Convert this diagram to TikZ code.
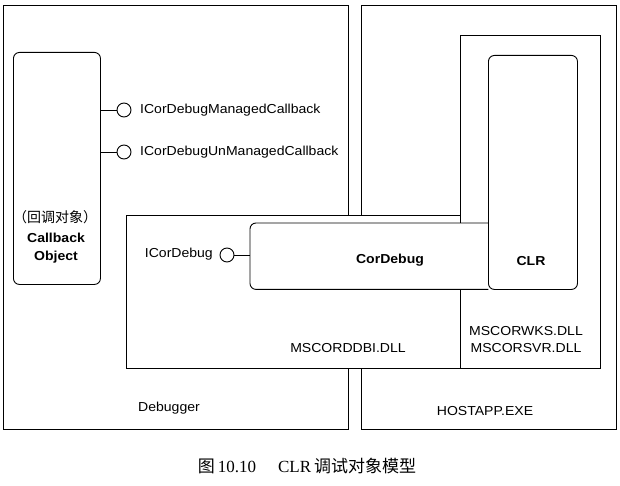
\documentclass[tikz,border=0pt]{standalone}
\usepackage{fontspec}
\setmainfont{Liberation Sans}[FakeStretch=1.08]
\newfontfamily\cjk{Noto Sans CJK SC}
\newfontfamily\capserif{Liberation Serif}
\begin{document}
\begin{tikzpicture}[x=1pt,y=-1pt,
  box/.style={draw=black,line width=0.9pt,fill=white,inner sep=0pt,anchor=north west},
  rbox/.style={box,rounded corners=6pt},
  lolli/.style={draw=black,line width=0.9pt,fill=white,circle,minimum size=14pt,inner sep=0pt},
  conn/.style={draw=black,line width=0.9pt},
  lbl/.style={inner sep=0pt,font=\fontsize{13}{15}\selectfont},
  blbl/.style={inner sep=0pt,font=\fontsize{13}{15}\selectfont\bfseries}]
\useasboundingbox (0,0) rectangle (620,486);
% outer process boxes
\node[box,minimum width=345pt,minimum height=424pt] (dbg) at (3,5) {};
\node[box,minimum width=255pt,minimum height=424pt] (host) at (361,5) {};
% MSCORWKS region
\node[box,minimum width=140pt,minimum height=333pt] (wks) at (460,35) {};
% MSCORDDBI region
\node[box,minimum width=334pt,minimum height=153pt] (ddbi) at (126,215) {};
% CorDebug
\node[fill=white,inner sep=0pt,anchor=north west,minimum width=238pt,minimum height=66pt] (cd) at (250,223) {};
\draw[conn,rounded corners=6pt] (cd.north east) -- (cd.north west) -- (cd.south west) -- (cd.south east);
% CLR
\node[rbox,minimum width=89pt,minimum height=234pt] (clr) at (488,55) {};
% Callback object
\node[rbox,minimum width=87pt,minimum height=232pt] (cb) at (13,52) {};
% lollipops
\node[lolli] (c1) at (124,110) {};
\node[lolli] (c2) at (124,152) {};
\node[lolli] (c3) at (227,255) {};
\draw[conn] (cb.east |- c1) -- (c1.west);
\draw[conn] (cb.east |- c2) -- (c2.west);
\draw[conn] (c3.east) -- (cd.west |- c3);
% labels
\node[lbl,anchor=west] (t1) at (140,110) {ICorDebugManagedCallback};
\node[lbl,anchor=west] (t2) at (140,152) {ICorDebugUnManagedCallback};
\node[lbl,anchor=east] (t3) at (213,254) {ICorDebug};
\node[inner sep=0pt,font=\fontsize{14}{16}\selectfont\cjk] (cbz) at (55,217) {（回调对象）};
\node[blbl] (cbl1) at (56,238) {Callback};
\node[blbl] (cbl2) at (56,257) {Object};
\node[blbl] (cdl) at (390,260) {CorDebug};
\node[blbl] (clrl) at (531,261) {CLR};
\node[lbl] (ddbil) at (348,348) {MSCORDDBI.DLL};
\node[lbl] (wksl) at (526,331) {MSCORWKS.DLL};
\node[lbl] (svrl) at (526,348) {MSCORSVR.DLL};
\node[lbl] (dbgl) at (169,408) {Debugger};
\node[lbl] (hostl) at (485,411) {HOSTAPP.EXE};
% caption
\node[inner sep=0pt,font=\fontsize{17}{19}\selectfont] (cap) at (307,466)
  {{\cjk 图}\,{\capserif 10.10}\hspace{1.3em}{\capserif CLR}\,{\cjk 调试对象模型}};
\end{tikzpicture}
\end{document}
